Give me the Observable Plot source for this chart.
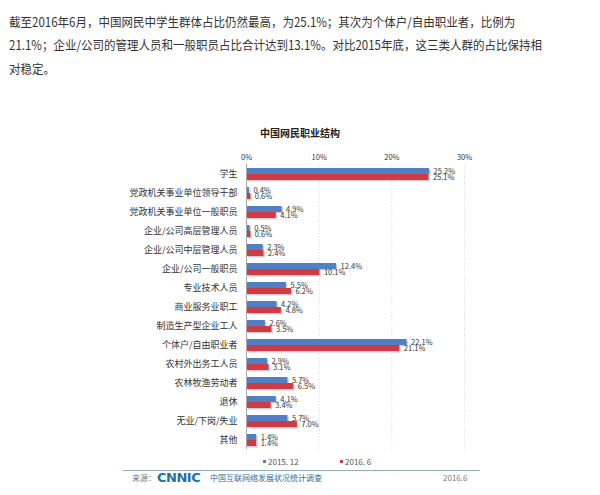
<!DOCTYPE html>
<html>
<head>
<meta charset="utf-8">
<script src="https://cdn.jsdelivr.net/npm/d3@7"></script>
<script src="https://cdn.jsdelivr.net/npm/@observablehq/plot@0.6"></script>
<style>
  html, body { margin: 0; padding: 0; background: #fff; }
  body { width: 600px; height: 495px; position: relative; overflow: hidden; font-family: "Noto Sans CJK SC", sans-serif; }
  .para { position: absolute; left: 9px; top: 10px; font-size: 12.5px; line-height: 23.3px; color: #333; white-space: nowrap; transform: scaleX(0.92); transform-origin: 0 0; }
  .title { position: absolute; left: 0; width: 600px; top: 126px; text-align: center; font-size: 10px; font-weight: bold; color: #222; line-height: 14px; }
  #chart { position: absolute; left: 0; top: 140px; }
  .legend { position: absolute; top: 456px; font-size: 8px; color: #555; line-height: 12px; }
  .legend i { display: inline-block; width: 3px; height: 3px; margin-right: 2px; vertical-align: middle; position: relative; top: -1px; }
  .rule { position: absolute; left: 123px; width: 357px; top: 470px; height: 1px; background: #8fb0bf; }
  .foot { position: absolute; top: 472px; font-size: 8px; line-height: 12px; color: #777; }
  .logo { position: absolute; left: 157px; top: 470px; font-family: "DejaVu Sans", sans-serif; font-weight: bold; font-size: 13px; color: #1f6f9f; line-height: 16px; letter-spacing: -0.5px; }
</style>
</head>
<body>
<div class="para">截至2016年6月，中国网民中学生群体占比仍然最高，为25.1%；其次为个体户/自由职业者，比例为<br>21.1%；企业/公司的管理人员和一般职员占比合计达到13.1%。对比2015年底，这三类人群的占比保持相<br>对稳定。</div>
<div class="title" id="title"></div>
<div id="chart"></div>
<div class="legend" id="leg0" style="left:263px"></div>
<div class="legend" id="leg1" style="left:340px"></div>
<div class="rule"></div>
<div class="foot" style="left:132px">来源：</div>
<div class="logo">CNNIC</div>
<div class="foot" style="left:210px; color:#2a6fa8">中国互联网络发展状况统计调查</div>
<div class="foot" style="left:443px">2016.6</div>
<script>
const chartTitle = "中国网民职业结构";
const categories = [
  "学生",
  "党政机关事业单位领导干部",
  "党政机关事业单位一般职员",
  "企业/公司高层管理人员",
  "企业/公司中层管理人员",
  "企业/公司一般职员",
  "专业技术人员",
  "商业服务业职工",
  "制造生产型企业工人",
  "个体户/自由职业者",
  "农村外出务工人员",
  "农林牧渔劳动者",
  "退休",
  "无业/下岗/失业",
  "其他"
];
const series = ["2015. 12", "2016. 6"];
const v2015 = [25.2, 0.4, 4.9, 0.5, 2.3, 12.4, 5.5, 4.2, 2.6, 22.1, 2.9, 5.7, 4.1, 5.7, 1.4];
const v2016 = [25.1, 0.6, 4.1, 0.6, 2.4, 10.1, 6.2, 4.8, 3.5, 21.1, 3.1, 6.5, 3.4, 7.0, 1.4];
const xTicks = [0, 10, 20, 30];
const colors = ["#4f80c4", "#d03a44"];

const rows = categories.flatMap((c, i) => [
  {category: c, series: series[0], value: v2015[i]},
  {category: c, series: series[1], value: v2016[i]}
]);

document.getElementById("title").textContent = chartTitle;
series.forEach((s, i) => {
  document.getElementById("leg" + i).innerHTML = `<i style="background:${colors[i]}"></i>${s}`;
});

const chart = Plot.plot({
  width: 600,
  height: 312,
  marginLeft: 246,
  marginRight: 136,
  marginTop: 23,
  marginBottom: 2,
  style: {fontFamily: '"Noto Sans CJK SC", sans-serif', color: "#333", background: "transparent"},
  x: {domain: [0, 30]},
  y: {domain: series, paddingInner: 0.08, paddingOuter: 0.62, axis: null},
  fy: {domain: categories, padding: 0},
  color: {domain: series, range: colors},
  marks: [
    Plot.ruleX([10, 20, 30], {stroke: "#e3e3e3", strokeDasharray: "1.5,1.5"}),
    Plot.barX(rows, {x: "value", y: "series", fy: "category", fill: "#cfcfcf", dx: 1.5, dy: 1.5}),
    Plot.barX(rows, {x: "value", y: "series", fy: "category", fill: "series"}),
    Plot.ruleX([0], {stroke: "#a8a8a8"}),
    Plot.text(rows, {x: "value", y: "series", fy: "category", text: d => d.value.toFixed(1) + "%", textAnchor: "start", dx: 4, fontSize: 7.5, fill: "#333"}),
    Plot.axisX({anchor: "top", ticks: xTicks, tickFormat: d => d + "%", tickSize: 0, tickPadding: 5, fontSize: 7.5, label: null}),
    Plot.axisFy({anchor: "left", tickSize: 0, tickPadding: 9, fontSize: 9, label: null})
  ]
});
document.getElementById("chart").appendChild(chart);
</script>
</body>
</html>
